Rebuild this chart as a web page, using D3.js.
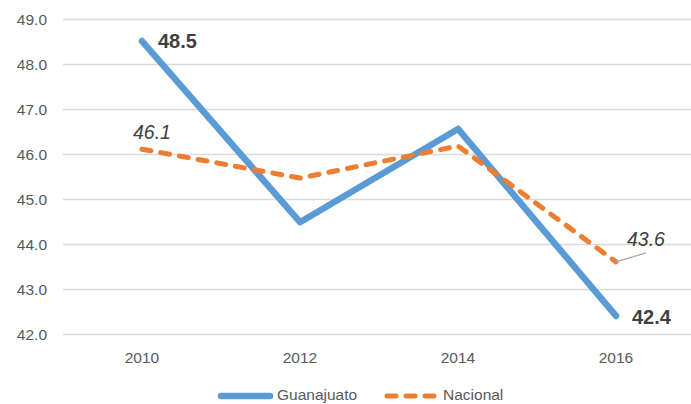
<!DOCTYPE html>
<html>
<head>
<meta charset="utf-8">
<script src="https://cdn.jsdelivr.net/npm/d3@7"></script>
<style>
  body { margin: 0; background: #fff; }
  svg { font-family: "Liberation Sans", Arial, sans-serif; }
</style>
</head>
<body>
<svg id="chart"></svg>
<script>
// data
var years = ["2010", "2012", "2014", "2016"];
var guanajuato = [48.5, 44.48, 46.55, 42.4];
var nacional = [46.1, 45.46, 46.17, 43.6];
var yTicks = [42, 43, 44, 45, 46, 47, 48, 49];

var width = 691;
var height = 404;

var svg = d3.select("#chart")
  .attr("width", width)
  .attr("height", height);

var x = d3.scalePoint()
  .domain(years)
  .range([142, 616]);

var y = d3.scaleLinear()
  .domain([42, 49])
  .range([334, 18.5]);

// gridlines
svg.append("g")
  .selectAll("line")
  .data(yTicks)
  .enter()
  .append("line")
  .attr("x1", 63)
  .attr("x2", 691)
  .attr("y1", function(d) { return Math.round(y(d)) + 0.5; })
  .attr("y2", function(d) { return Math.round(y(d)) + 0.5; })
  .attr("stroke", "#d9d9d9")
  .attr("stroke-width", 1.3);

// y axis labels
svg.append("g")
  .selectAll("text")
  .data(yTicks)
  .enter()
  .append("text")
  .attr("x", 47)
  .attr("y", function(d) { return y(d) + 6; })
  .attr("text-anchor", "end")
  .attr("font-size", 15.5)
  .attr("fill", "#595959")
  .text(function(d) { return d3.format(".1f")(d); });

// x axis labels
svg.append("g")
  .selectAll("text")
  .data(years)
  .enter()
  .append("text")
  .attr("x", function(d) { return x(d); })
  .attr("y", 363)
  .attr("text-anchor", "middle")
  .attr("font-size", 15.5)
  .attr("fill", "#595959")
  .text(function(d) { return d; });

var line = d3.line()
  .x(function(d, i) { return x(years[i]); })
  .y(function(d) { return y(d); });

svg.append("path")
  .datum(guanajuato)
  .attr("d", line)
  .attr("fill", "none")
  .attr("stroke", "#5b9bd5")
  .attr("stroke-width", 6.5)
  .attr("stroke-linecap", "round")
  .attr("stroke-linejoin", "round");

svg.append("path")
  .datum(nacional)
  .attr("d", line)
  .attr("fill", "none")
  .attr("stroke", "#ed7d31")
  .attr("stroke-width", 5)
  .attr("stroke-dasharray", "9,10")
  .attr("stroke-linecap", "round")
  .attr("stroke-linejoin", "round");

// data labels
var fmt = d3.format(".1f");

svg.append("text")
  .attr("x", x("2010") + 16)
  .attr("y", y(guanajuato[0]) + 7)
  .attr("font-size", 20)
  .attr("font-weight", "bold")
  .attr("fill", "#404040")
  .text(fmt(guanajuato[0]));

svg.append("text")
  .attr("x", x("2016") + 16)
  .attr("y", y(guanajuato[3]) + 8)
  .attr("font-size", 20)
  .attr("font-weight", "bold")
  .attr("fill", "#404040")
  .text(fmt(guanajuato[3]));

svg.append("text")
  .attr("x", x("2010") - 9)
  .attr("y", y(nacional[0]) - 10)
  .attr("font-size", 19.5)
  .attr("font-style", "italic")
  .attr("fill", "#404040")
  .text(fmt(nacional[0]));

svg.append("line")
  .attr("x1", x("2016"))
  .attr("y1", y(nacional[3]))
  .attr("x2", x("2016") + 30)
  .attr("y2", y(nacional[3]) - 9)
  .attr("stroke", "#a6a6a6")
  .attr("stroke-width", 1.3);

svg.append("text")
  .attr("x", x("2016") + 11)
  .attr("y", y(nacional[3]) - 16)
  .attr("font-size", 19.5)
  .attr("font-style", "italic")
  .attr("fill", "#404040")
  .text(fmt(nacional[3]));

// legend
var legend = svg.append("g");

legend.append("line")
  .attr("x1", 221).attr("x2", 270)
  .attr("y1", 396).attr("y2", 396)
  .attr("stroke", "#5b9bd5")
  .attr("stroke-width", 6.5)
  .attr("stroke-linecap", "round");

legend.append("text")
  .attr("x", 277).attr("y", 400)
  .attr("font-size", 15.5)
  .attr("fill", "#595959")
  .text("Guanajuato");

legend.append("line")
  .attr("x1", 387).attr("x2", 436)
  .attr("y1", 396).attr("y2", 396)
  .attr("stroke", "#ed7d31")
  .attr("stroke-width", 5)
  .attr("stroke-dasharray", "9,10")
  .attr("stroke-linecap", "round");

legend.append("text")
  .attr("x", 443).attr("y", 400)
  .attr("font-size", 15.5)
  .attr("fill", "#595959")
  .text("Nacional");
</script>
</body>
</html>
